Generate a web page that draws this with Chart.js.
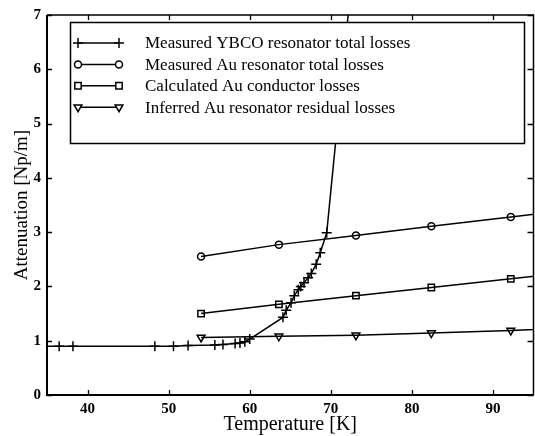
<!DOCTYPE html>
<html>
<head>
<meta charset="utf-8">
<script src="https://cdn.jsdelivr.net/npm/chart.js@4/dist/chart.umd.min.js"></script>
<style>
html, body { margin: 0; padding: 0; background: #fff; overflow: hidden; }
#wrap { width: 540px; height: 436px; }
</style>
</head>
<body>
<div id="wrap"><canvas id="myChart"></canvas></div>
<script>
// values
var ybcoT = [34.0, 36.5, 38.2, 48.3, 50.6, 52.4, 55.7, 56.7, 58.2, 58.8, 59.4, 60.0,
             64.1, 64.5, 65.1, 65.5, 66.0, 66.3, 66.7, 67.2, 67.6, 68.2, 68.7, 69.5, 72.8];
var ybcoLoss = [0.90, 0.90, 0.90, 0.90, 0.90, 0.91, 0.92, 0.93, 0.95, 0.96, 0.98, 1.03,
                1.43, 1.56, 1.70, 1.83, 1.94, 2.00, 2.07, 2.16, 2.24, 2.41, 2.62, 2.99, 8.0];
var auT = [54.0, 63.6, 73.1, 82.4, 92.2, 101.8];
var auTotal = [2.55, 2.77, 2.94, 3.11, 3.28, 3.45];
var auCond = [1.50, 1.67, 1.83, 1.98, 2.14, 2.30];
var auResid = [1.06, 1.08, 1.10, 1.14, 1.19, 1.24];
var xTicks = [40, 50, 60, 70, 80, 90];
var yTicks = [0, 1, 2, 3, 4, 5, 6, 7];
var labels = ['Measured YBCO resonator total losses', 'Measured Au resonator total losses',
              'Calculated Au conductor losses', 'Inferred Au resonator residual losses'];

function pts(xs, ys) {
    return xs.map(function (x, i) { return {x: x, y: ys[i]}; });
}

var serif = '"Liberation Serif", "DejaVu Serif", serif';

function series(label, data, style, radius, rot) {
    return {
        label: label,
        data: data,
        borderColor: '#000',
        backgroundColor: 'rgba(0,0,0,0)',
        borderWidth: 1.5,
        pointStyle: style,
        pointRadius: radius,
        pointRotation: rot || 0,
        pointBorderWidth: 1.5,
        pointBorderColor: '#000',
        pointBackgroundColor: 'rgba(0,0,0,0)',
        tension: 0,
        fill: false
    };
}

// frame with inward ticks, and the boxed legend
var framePlugin = {
    id: 'frame',
    afterDatasetsDraw: function (chart) {
        var c = chart.ctx, a = chart.chartArea;
        var xs = chart.scales.x, ys = chart.scales.y;
        c.save();
        c.strokeStyle = '#000';
        c.lineWidth = 2;
        c.beginPath();
        c.moveTo(a.left, a.top); c.lineTo(a.left, a.bottom); c.lineTo(a.right, a.bottom);
        c.stroke();
        c.lineWidth = 1.5;
        c.beginPath();
        c.moveTo(a.left, a.top); c.lineTo(a.right, a.top); c.lineTo(a.right, a.bottom);
        c.stroke();
        c.lineWidth = 1.3;
        c.beginPath();
        xTicks.forEach(function (v) {
            var px = Math.round(xs.getPixelForValue(v)) + 0.5;
            c.moveTo(px, a.bottom); c.lineTo(px, a.bottom - 5);
            c.moveTo(px, a.top); c.lineTo(px, a.top + 5);
        });
        yTicks.forEach(function (v) {
            var py = Math.round(ys.getPixelForValue(v)) + 0.5;
            c.moveTo(a.left, py); c.lineTo(a.left + 5, py);
            c.moveTo(a.right, py); c.lineTo(a.right - 6, py);
        });
        c.stroke();

        // legend box
        var bx = 70, by = 22, bw = 454, bh = 121;
        c.fillStyle = '#fff';
        c.fillRect(bx, by, bw, bh);
        c.lineWidth = 1.5;
        c.strokeRect(bx + 0.5, by + 0.5, bw, bh);
        c.font = '17px ' + serif;
        c.textBaseline = 'middle';
        c.textAlign = 'left';
        chart.data.datasets.forEach(function (ds, i) {
            var y = 43 + i * 21.4;
            c.lineWidth = 1.5;
            c.strokeStyle = '#000';
            c.beginPath();
            c.moveTo(78, y); c.lineTo(119, y);
            c.stroke();
            var opt = {pointStyle: ds.pointStyle, radius: ds.pointRadius,
                       rotation: ds.pointRotation, borderWidth: 1.5};
            c.fillStyle = '#fff';
            Chart.helpers.drawPoint(c, opt, 78, y);
            Chart.helpers.drawPoint(c, opt, 119, y);
            c.fillStyle = '#000';
            c.fillText(ds.label, 145, y + 1);
        });
        c.restore();
    }
};

var ctx = document.getElementById('myChart').getContext('2d');
var myChart = new Chart(ctx, {
    type: 'line',
    data: {
        datasets: [
            series(labels[0], pts(ybcoT, ybcoLoss), 'cross', 5),
            series(labels[1], pts(auT, auTotal), 'circle', 3.5),
            series(labels[2], pts(auT, auCond), 'rect', 4.5),
            series(labels[3], pts(auT, auResid), 'triangle', 4.5, 180)
        ]
    },
    options: {
        responsive: true,
        maintainAspectRatio: false,
        animation: false,
        layout: { padding: { top: 13, right: 0, left: 0, bottom: 0 } },
        plugins: {
            legend: { display: false },
            tooltip: { enabled: false }
        },
        scales: {
            x: {
                type: 'linear',
                min: 35,
                max: 95,
                afterFit: function (s) { s.height = 41; },
                afterBuildTicks: function (s) { s.ticks = xTicks.map(function (v) { return {value: v}; }); },
                grid: { display: false, drawTicks: false },
                border: { display: false },
                ticks: { color: '#000', padding: 5, font: { family: serif, size: 15, weight: 'bold' } },
                title: {
                    display: true,
                    text: 'Temperature [K]',
                    color: '#000',
                    padding: { top: 0, bottom: -1 },
                    font: { family: serif, size: 20 }
                }
            },
            y: {
                min: 0,
                max: 7,
                afterFit: function (s) { s.width = 47; },
                afterBuildTicks: function (s) { s.ticks = yTicks.map(function (v) { return {value: v}; }); },
                grid: { display: false, drawTicks: false },
                border: { display: false },
                ticks: { color: '#000', padding: 6, font: { family: serif, size: 15, weight: 'bold' } },
                title: {
                    display: true,
                    text: 'Attenuation [Np/m]',
                    color: '#000',
                    padding: { top: 11, bottom: 0 },
                    font: { family: serif, size: 19 }
                }
            }
        }
    },
    plugins: [framePlugin]
});
</script>
</body>
</html>
